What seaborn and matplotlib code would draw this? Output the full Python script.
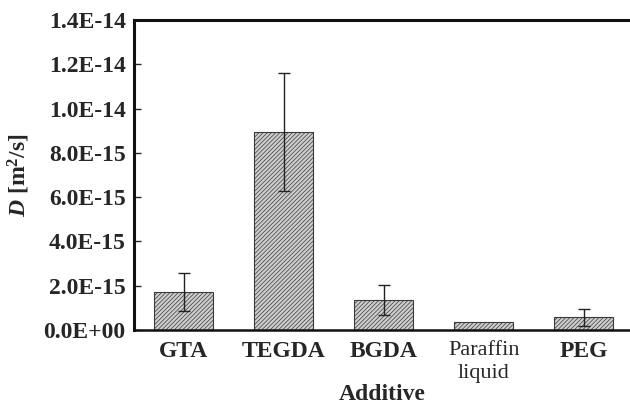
import matplotlib
matplotlib.use("Agg")
import matplotlib.pyplot as plt
import seaborn as sns
import numpy as np
import pandas as pd
from matplotlib.ticker import FuncFormatter, FixedLocator

additives = ["GTA", "TEGDA", "BGDA", "Paraffin\nliquid", "PEG"]
diffusion = [1.73e-15, 8.93e-15, 1.36e-15, 0.35e-15, 0.57e-15]
errors = [0.85e-15, 2.67e-15, 0.69e-15, 0.0, 0.40e-15]
y_ticks = [0, 2e-15, 4e-15, 6e-15, 8e-15, 1.0e-14, 1.2e-14, 1.4e-14]

sns.set_style("white")
plt.rcParams["font.family"] = ["Liberation Serif", "DejaVu Serif"]
plt.rcParams["font.weight"] = "bold"
plt.rcParams["mathtext.fontset"] = "custom"
plt.rcParams["mathtext.rm"] = "Liberation Serif:bold"
plt.rcParams["mathtext.it"] = "Liberation Serif:italic:bold"
plt.rcParams["hatch.color"] = "#8c8c8c"
plt.rcParams["hatch.linewidth"] = 0.5

df = pd.DataFrame({"Additive": additives, "D": diffusion})

fig = plt.figure(figsize=(6.3, 4.05), dpi=100)
ax = fig.add_axes([0.2127, 0.185, 0.7873, 0.7655])

sns.barplot(data=df, x="Additive", y="D", color="#cdcdcd", width=0.59,
            edgecolor="#3a3a3a", linewidth=0.8, errorbar=None, ax=ax, saturation=1)
for bar in ax.patches:
    bar.set_hatch("////////")

# error bars (Paraffin liquid has none)
xs = np.arange(len(additives))
mask = np.array(errors) > 0
ax.errorbar(xs[mask], np.array(diffusion)[mask], yerr=np.array(errors)[mask],
            fmt="none", ecolor="#222222", elinewidth=1.0, capsize=4, capthick=1.0)

ax.set_xlim(-0.5, 4.465)
ax.set_ylim(0, 1.4e-14)
ax.yaxis.set_major_locator(FixedLocator(y_ticks))
ax.yaxis.set_major_formatter(FuncFormatter(lambda v, p: f"{v:.1E}"))

ax.xaxis.set_major_locator(FixedLocator(xs))
ax.set_xticklabels(additives)
ax.xaxis.set_minor_locator(FixedLocator(xs[:-1] + 0.5))
ax.tick_params(axis="x", which="major", length=0, labelsize=17, pad=8)
ax.tick_params(axis="x", which="minor", direction="in", length=5, width=1)
ax.tick_params(axis="y", direction="in", length=5, width=1, labelsize=17, pad=6, left=True)

lbl = ax.get_xticklabels()[3]
lbl.set_fontweight("normal")
lbl.set_fontsize(16)
lbl.set_linespacing(1.25)

for side in ["left", "top", "bottom"]:
    ax.spines[side].set_visible(True)
    ax.spines[side].set_color("#111111")
ax.spines["left"].set_linewidth(2.2)
ax.spines["top"].set_linewidth(2.2)
ax.spines["bottom"].set_linewidth(1.8)
ax.spines["right"].set_visible(False)

ax.set_xlabel("Additive", fontsize=17, fontweight="bold", labelpad=1)
ax.set_ylabel(r"$D$ [m$^2$/s]", fontsize=17, fontweight="bold", labelpad=8)

fig.savefig("out.png", dpi=100)
